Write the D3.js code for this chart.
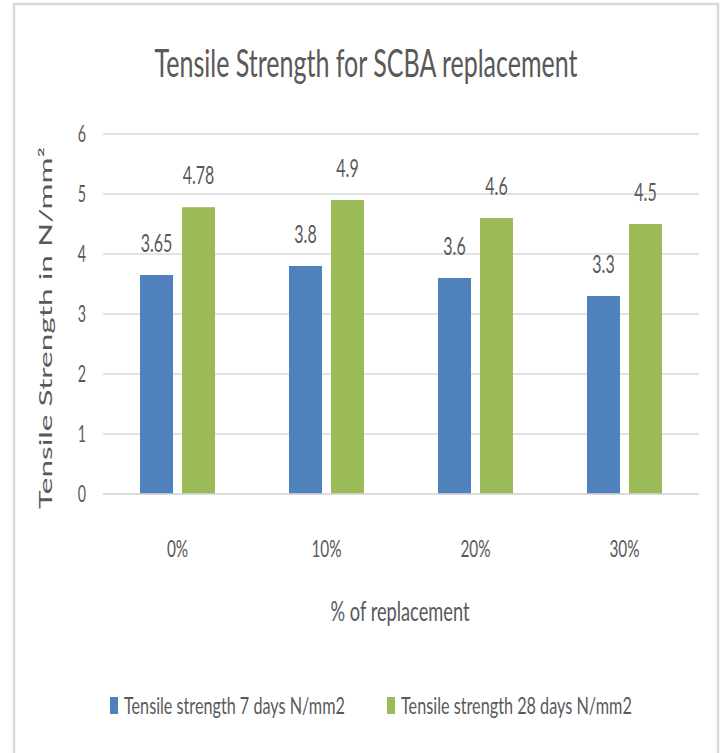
<!DOCTYPE html>
<html>
<head>
<meta charset="utf-8">
<script src="https://cdn.jsdelivr.net/npm/d3@7"></script>
<style>
  body { margin: 0; background: #fff; }
  text { font-family: Lato, "Open Sans", sans-serif; fill: #595959; }
</style>
</head>
<body>
<div id="grafico"></div>
<script>
// DATOS
var categorias = ['0%', '10%', '20%', '30%'];
var series = ['Tensile strength 7 days N/mm2', 'Tensile strength 28 days N/mm2'];
var dias7 = [3.65, 3.8, 3.6, 3.3];
var dias28 = [4.78, 4.9, 4.6, 4.5];
var etiquetas7 = ['3.65', '3.8', '3.6', '3.3'];
var etiquetas28 = ['4.78', '4.9', '4.6', '4.5'];
var ticksY = [0, 1, 2, 3, 4, 5, 6];
var colores = ['#4f81bd', '#9bbb59'];

var ancho = 723, alto = 753;
var sx = 0.68; // las letras del original son angostas

var svg = d3.select('#grafico').append('svg')
    .attr('width', ancho)
    .attr('height', alto);

// marco gris
svg.append('rect')
    .attr('x', 14).attr('y', 4)
    .attr('width', 704).attr('height', 760)
    .attr('fill', 'none')
    .attr('stroke', '#d9d9d9')
    .attr('stroke-width', 2.5);

// ---------ESCALAS------------
var scale_x = d3.scaleBand().domain(categorias).range([103, 699]);
var scale_serie = d3.scaleBand().domain([0, 1])
    .range([37, 112])
    .paddingInner(0.214);
var scale_y = d3.scaleLinear().domain([0, 6]).range([494, 134]);

// texto angosto
function texto(g, x, y, s, size, anchor, escala) {
    return g.append('text')
        .attr('transform', 'translate(' + x + ',' + y + ') scale(' + (escala || sx) + ',1)')
        .attr('text-anchor', anchor || 'middle')
        .attr('font-size', size)
        .text(s);
}

// texto con ancho fijo: se mide y se escala en x
function textoAncho(g, x, y, s, size, anchor, w) {
    var t = texto(g, x, y, s, size, anchor, 1);
    var natural = t.node().getComputedTextLength();
    t.attr('transform', 'translate(' + x + ',' + y + ') scale(' + (w / natural) + ',1)');
    return t;
}

// grilla
svg.append('g').selectAll('line')
    .data(ticksY)
    .join('line')
    .attr('x1', 103).attr('x2', 699)
    .attr('y1', function (d) { return scale_y(d); })
    .attr('y2', function (d) { return scale_y(d); })
    .attr('stroke', '#d9d9d9')
    .attr('stroke-width', 1.3);

// eje Y
ticksY.forEach(function (d) {
    texto(svg, 86, scale_y(d) + 8, d, 23, 'end', 0.62);
});

// barras
var datos = categorias.map(function (c, i) {
    return [
        { cat: c, s: 0, v: dias7[i], lab: etiquetas7[i] },
        { cat: c, s: 1, v: dias28[i], lab: etiquetas28[i] }
    ];
});

var grupos = svg.append('g').selectAll('g')
    .data(datos)
    .join('g')
    .attr('transform', function (d) { return 'translate(' + scale_x(d[0].cat) + ',0)'; });

grupos.selectAll('rect')
    .data(function (d) { return d; })
    .join('rect')
    .attr('x', function (d) { return scale_serie(d.s); })
    .attr('y', function (d) { return scale_y(d.v); })
    .attr('width', scale_serie.bandwidth())
    .attr('height', function (d) { return scale_y(0) - scale_y(d.v); })
    .attr('fill', function (d) { return colores[d.s]; });

grupos.each(function (d) {
    var g = d3.select(this);
    d.forEach(function (b) {
        texto(g, scale_serie(b.s) + scale_serie.bandwidth() / 2, scale_y(b.v) - 23, b.lab, 25, 'middle', 0.64);
    });
});

// eje X
svg.append('line')
    .attr('x1', 103).attr('x2', 699)
    .attr('y1', scale_y(0)).attr('y2', scale_y(0))
    .attr('stroke', '#d9d9d9').attr('stroke-width', 1.3);

categorias.forEach(function (c) {
    texto(svg, scale_x(c) + scale_x.bandwidth() / 2, 557, c, 24, 'middle', 0.64);
});

// TITULOS
textoAncho(svg, 366, 77, 'Tensile Strength for SCBA replacement', 39, 'middle', 423);
textoAncho(svg, 400, 621, '% of replacement', 26, 'middle', 139);

// titulo eje Y: letras anchas, se estira a lo largo
svg.append('text')
    .attr('transform', 'translate(52,328) rotate(-90)')
    .attr('text-anchor', 'middle')
    .attr('font-size', 17)
    .attr('textLength', 362)
    .attr('lengthAdjust', 'spacingAndGlyphs')
    .text('Tensile Strength in N/mm²');

// LEYENDA
var leyendaX = [110, 387];
var leyendaW = [221, 231];
series.forEach(function (s, i) {
    svg.append('rect')
        .attr('x', leyendaX[i]).attr('y', 697)
        .attr('width', 8).attr('height', 17)
        .attr('fill', colores[i]);
    textoAncho(svg, leyendaX[i] + 14, 714, s, 23, 'start', leyendaW[i]);
});
</script>
</body>
</html>
